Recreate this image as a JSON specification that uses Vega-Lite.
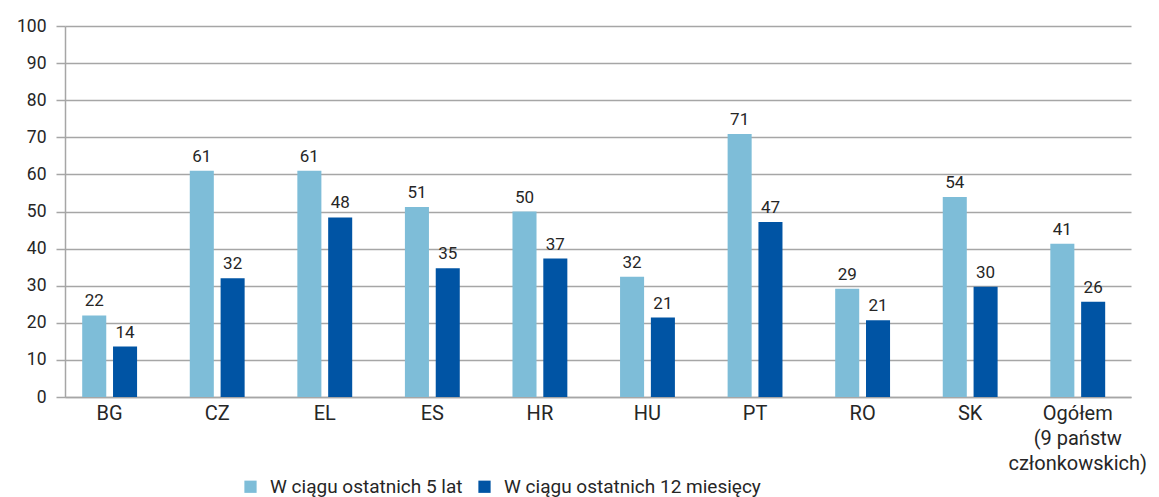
{
  "$schema": "https://vega.github.io/schema/vega-lite/v6.json",
  "width": 1066,
  "height": 371,
  "autosize": {"type": "none"},
  "padding": {"left": 65, "top": 26, "right": 28, "bottom": 100},
  "background": "white",
  "config": {"font": "Roboto", "view": {"stroke": null}},
  "data": {
    "values": [
      {"kraj": "BG", "okres": "W ciągu ostatnich 5 lat", "wartosc": 22},
      {"kraj": "BG", "okres": "W ciągu ostatnich 12 miesięcy", "wartosc": 13.6},
      {"kraj": "CZ", "okres": "W ciągu ostatnich 5 lat", "wartosc": 61},
      {"kraj": "CZ", "okres": "W ciągu ostatnich 12 miesięcy", "wartosc": 32},
      {"kraj": "EL", "okres": "W ciągu ostatnich 5 lat", "wartosc": 61},
      {"kraj": "EL", "okres": "W ciągu ostatnich 12 miesięcy", "wartosc": 48.4},
      {"kraj": "ES", "okres": "W ciągu ostatnich 5 lat", "wartosc": 51.2},
      {"kraj": "ES", "okres": "W ciągu ostatnich 12 miesięcy", "wartosc": 34.7},
      {"kraj": "HR", "okres": "W ciągu ostatnich 5 lat", "wartosc": 50},
      {"kraj": "HR", "okres": "W ciągu ostatnich 12 miesięcy", "wartosc": 37.3},
      {"kraj": "HU", "okres": "W ciągu ostatnich 5 lat", "wartosc": 32.4},
      {"kraj": "HU", "okres": "W ciągu ostatnich 12 miesięcy", "wartosc": 21.4},
      {"kraj": "PT", "okres": "W ciągu ostatnich 5 lat", "wartosc": 70.9},
      {"kraj": "PT", "okres": "W ciągu ostatnich 12 miesięcy", "wartosc": 47.2},
      {"kraj": "RO", "okres": "W ciągu ostatnich 5 lat", "wartosc": 29.2},
      {"kraj": "RO", "okres": "W ciągu ostatnich 12 miesięcy", "wartosc": 20.7},
      {"kraj": "SK", "okres": "W ciągu ostatnich 5 lat", "wartosc": 53.9},
      {"kraj": "SK", "okres": "W ciągu ostatnich 12 miesięcy", "wartosc": 29.7},
      {"kraj": "Ogółem (9 państw członkowskich)", "okres": "W ciągu ostatnich 5 lat", "wartosc": 41.3},
      {"kraj": "Ogółem (9 państw członkowskich)", "okres": "W ciągu ostatnich 12 miesięcy", "wartosc": 25.7}
    ]
  },
  "encoding": {
    "x": {
      "field": "kraj",
      "type": "nominal",
      "sort": null,
      "scale": {"paddingInner": 0.49, "paddingOuter": 0.2, "align": 0.4},
      "axis": {
        "title": null,
        "labelAngle": 0,
        "ticks": false,
        "domainColor": "#a6a6a6",
        "domainWidth": 1.5,
        "labelFontSize": 20,
        "labelColor": "#262626",
        "labelPadding": 6,
        "labelLineHeight": 25,
        "labelBaseline": "top",
        "labelExpr": "datum.label == 'Ogółem (9 państw członkowskich)' ? ['Ogółem', '(9 państw', 'członkowskich)'] : datum.label"
      }
    },
    "xOffset": {
      "field": "okres",
      "type": "nominal",
      "sort": ["W ciągu ostatnich 5 lat", "W ciągu ostatnich 12 miesięcy"],
      "scale": {"paddingInner": 0.22, "paddingOuter": 0}
    },
    "y": {
      "field": "wartosc",
      "type": "quantitative",
      "scale": {"domain": [0, 100], "nice": false},
      "axis": {
        "title": null,
        "values": [0, 10, 20, 30, 40, 50, 60, 70, 80, 90, 100],
        "grid": true,
        "gridColor": "#a6a6a6",
        "gridWidth": 1.5,
        "domainColor": "#a6a6a6",
        "domainWidth": 1.5,
        "tickColor": "#a6a6a6",
        "tickWidth": 1.5,
        "tickSize": 9,
        "labelPadding": 10,
        "labelFontSize": 17.5,
        "labelColor": "#262626"
      }
    }
  },
  "layer": [
    {
      "mark": {"type": "bar"},
      "encoding": {
        "color": {
          "field": "okres",
          "type": "nominal",
          "scale": {
            "domain": ["W ciągu ostatnich 5 lat", "W ciągu ostatnich 12 miesięcy"],
            "range": ["#7ebdd8", "#0054a4"]
          },
          "legend": {
            "title": null,
            "orient": "none",
            "legendX": 176,
            "legendY": 451,
            "direction": "horizontal",
            "symbolType": "square",
            "symbolSize": 150,
            "symbolStrokeWidth": 0,
            "labelFontSize": 19,
            "labelLimit": 0,
            "labelColor": "#262626",
            "labelOffset": 10,
            "columnPadding": 12
          }
        }
      }
    },
    {
      "mark": {"type": "text", "baseline": "alphabetic", "dy": -9, "fontSize": 17, "color": "#262626"},
      "encoding": {
        "text": {"field": "wartosc", "type": "quantitative", "format": ".0f"}
      }
    }
  ]
}
